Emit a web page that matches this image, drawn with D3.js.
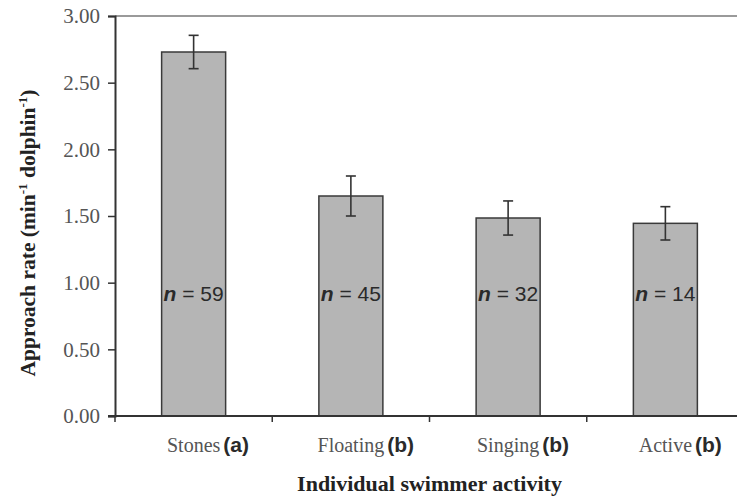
<!DOCTYPE html>
<html><head><meta charset="utf-8">
<script src="https://cdn.jsdelivr.net/npm/d3@7/dist/d3.min.js"></script>
<style>body{margin:0;background:#fff;overflow:hidden}</style>
</head><body><svg id="c" width="737" height="498"></svg>
<script>
const categories = ["Stones", "Floating", "Singing", "Active"];
const groupLetters = ["a", "b", "b", "b"];
const means = [2.73, 1.65, 1.485, 1.445];
const errors = [0.125, 0.15, 0.128, 0.125];
const sampleSizes = [59, 45, 32, 14];
const yTicks = [0, 0.5, 1, 1.5, 2, 2.5, 3];

const svg = d3.select("#c");
const m = {left: 115, top: 16, right: 744, bottom: 416};

const x = d3.scaleBand().domain(categories).range([m.left, m.right])
  .paddingInner(0.593).paddingOuter(0.2965);
const y = d3.scaleLinear().domain([0, 3]).range([m.bottom, m.top]);
const step = x.step();

// top border line
svg.append("line").attr("x1", m.left).attr("x2", 760).attr("y1", y(3)).attr("y2", y(3))
  .attr("stroke", "#9a9a9a").attr("stroke-width", 2);

// bars
const data = categories.map((c, i) => ({c, v: means[i], e: errors[i], n: sampleSizes[i], g: groupLetters[i]}));
svg.selectAll("rect.bar").data(data).join("rect").attr("class", "bar")
  .attr("x", d => x(d.c)).attr("width", x.bandwidth())
  .attr("y", d => y(d.v)).attr("height", d => y(0) - y(d.v))
  .attr("fill", "#b5b5b5").attr("stroke", "#3a3a3a").attr("stroke-width", 1.5);

// error bars
const eb = svg.selectAll("g.eb").data(data).join("g").attr("class", "eb")
  .attr("stroke", "#333").attr("stroke-width", 1.6);
eb.append("line").attr("x1", d => x(d.c) + x.bandwidth() / 2).attr("x2", d => x(d.c) + x.bandwidth() / 2)
  .attr("y1", d => y(d.v + d.e)).attr("y2", d => y(d.v - d.e));
eb.append("line").attr("x1", d => x(d.c) + x.bandwidth() / 2 - 5).attr("x2", d => x(d.c) + x.bandwidth() / 2 + 5)
  .attr("y1", d => y(d.v + d.e)).attr("y2", d => y(d.v + d.e));
eb.append("line").attr("x1", d => x(d.c) + x.bandwidth() / 2 - 5).attr("x2", d => x(d.c) + x.bandwidth() / 2 + 5)
  .attr("y1", d => y(d.v - d.e)).attr("y2", d => y(d.v - d.e));

// n labels
const nl = svg.selectAll("text.nl").data(data).join("text").attr("class", "nl")
  .attr("x", d => x(d.c) + x.bandwidth() / 2).attr("y", y(0) - 115)
  .attr("text-anchor", "middle").attr("font-family", "Liberation Sans, Arial, sans-serif")
  .attr("font-size", 21).attr("fill", "#2a2a2a").style("white-space", "pre");
nl.append("tspan").attr("font-style", "italic").attr("font-weight", "bold").text("n");
nl.append("tspan").text(d => " = " + d.n);

// y axis
const yAxis = d3.axisLeft(y).tickValues(yTicks).tickFormat(d3.format(".2f")).tickSize(7).tickPadding(8);
const ya = svg.append("g").attr("transform", `translate(${m.left},0)`).call(yAxis);
ya.select(".domain").attr("stroke", "#333").attr("stroke-width", 2);
ya.selectAll(".tick line").attr("stroke", "#333").attr("stroke-width", 1.5);
ya.selectAll(".tick text").attr("font-family", "Liberation Serif, Times New Roman, serif")
  .attr("font-size", 21).attr("fill", "#555");

// x axis baseline + ticks between categories
svg.append("line").attr("x1", m.left - 7).attr("x2", 760).attr("y1", y(0)).attr("y2", y(0))
  .attr("stroke", "#333").attr("stroke-width", 2);
const bounds = d3.range(categories.length + 1).map(i => m.left + i * step);
svg.selectAll("line.xt").data(bounds).join("line").attr("class", "xt")
  .attr("x1", d => d).attr("x2", d => d).attr("y1", y(0)).attr("y2", y(0) + 6)
  .attr("stroke", "#333").attr("stroke-width", 1.5);

// x category labels
const xl = svg.selectAll("g.xl").data(data).join("g").attr("class", "xl");
xl.each(function(d) {
  const g = d3.select(this);
  const cx = x(d.c) + x.bandwidth() / 2;
  const t = g.append("text").attr("x", cx).attr("y", 452).attr("text-anchor", "middle")
    .attr("font-family", "Liberation Serif, Times New Roman, serif").attr("font-size", 20)
    .attr("fill", "#555").text(d.c);
  const w = t.node().getComputedTextLength();
  g.append("text").attr("x", cx + w / 2 + 3).attr("y", 452)
    .attr("font-family", "Liberation Sans, Arial, sans-serif").attr("font-size", 21)
    .attr("font-weight", "bold").attr("fill", "#2a2a2a").text("(" + d.g + ")");
});

// axis titles
svg.append("text").attr("x", (m.left + m.right) / 2).attr("y", 491).attr("text-anchor", "middle")
  .attr("font-family", "Liberation Serif, Times New Roman, serif").attr("font-size", 22)
  .attr("font-weight", "bold").attr("fill", "#222").text("Individual swimmer activity");

const yt = svg.append("text").attr("transform", "translate(35,233) rotate(-90)")
  .attr("text-anchor", "middle").attr("font-family", "Liberation Serif, Times New Roman, serif")
  .attr("font-size", 21.5).attr("font-weight", "bold").attr("fill", "#222");
yt.append("tspan").text("Approach rate (min");
yt.append("tspan").attr("dy", -8).attr("font-size", 13).text("-1");
yt.append("tspan").attr("dy", 8).text(" dolphin");
yt.append("tspan").attr("dy", -8).attr("font-size", 13).text("-1");
yt.append("tspan").attr("dy", 8).text(")");
</script></body></html>
